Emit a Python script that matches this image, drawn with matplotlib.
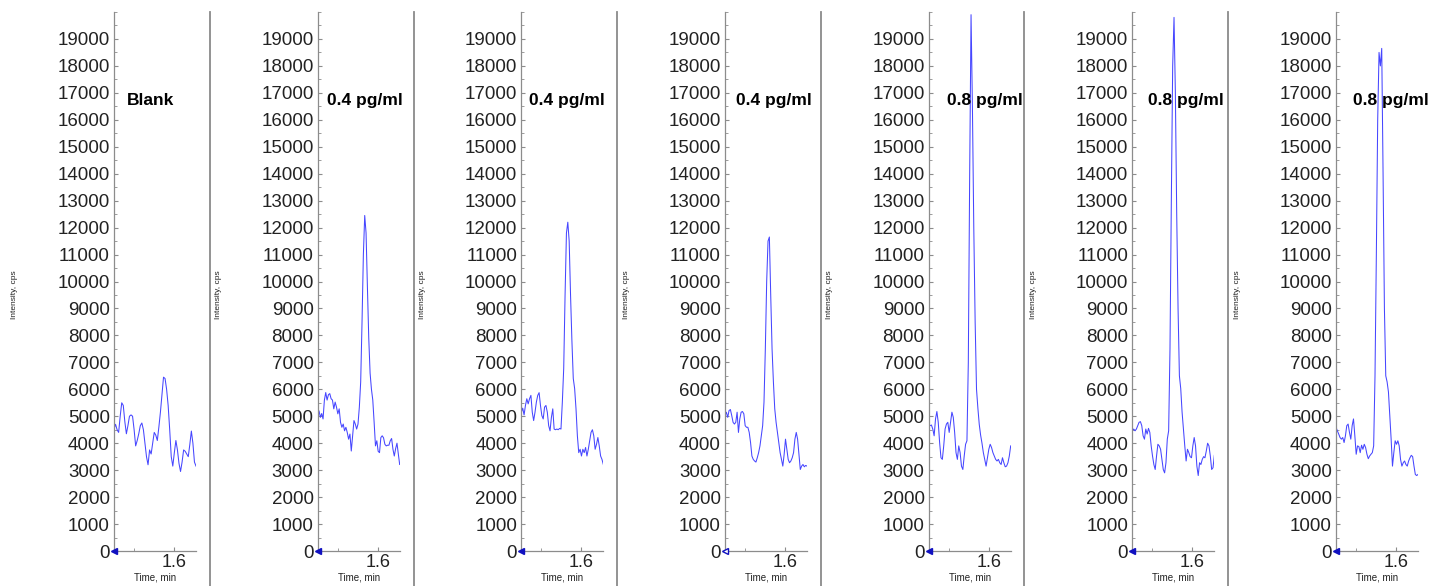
"""
plot.py

Seven MRM chromatograms side by side: a blank and six spiked samples.
"""

import numpy as np
import matplotlib
matplotlib.use("Agg")
import matplotlib.pyplot as plt
from matplotlib.ticker import MultipleLocator

# sample labels
LABELS = ["Blank", "0.4 pg/ml", "0.4 pg/ml", "0.4 pg/ml",
          "0.8 pg/ml", "0.8 pg/ml", "0.8 pg/ml"]

# time window shown on each x axis (min)
T_START = 1.45
T_END = 1.655

# intensity traces (cps), sampled evenly over the time window
BLANK = [4525, 4700, 4500, 4400, 5000, 5500, 5400, 4800, 4350, 4650, 5000,
         5050, 5000, 4500, 3900, 4100, 4350, 4650, 4750, 4500, 4000, 3500,
         3200, 3750, 3600, 4000, 4400, 4300, 4100, 4600, 5150, 5800, 6450,
         6400, 6000, 5400, 4500, 3500, 3150, 3650, 4100, 3750, 3250, 2950,
         3300, 3750, 3700, 3600, 3500, 3950, 4450, 4000, 3300, 3150]

SAMPLE_04_A = [5100, 5200, 4960, 5100, 4900, 5600, 5880, 5600, 5800, 5840,
               5650, 5600, 5275, 5525, 5340, 5090, 5275, 4775, 4590, 4710,
               4460, 4590, 4400, 4150, 4340, 3710, 4275, 4840, 4710, 4525,
               4710, 5340, 6275, 8500, 11000, 12450, 11800, 9800, 7900, 6600,
               6000, 5600, 4775, 3900, 4090, 3700, 3650, 4210, 4275, 4200,
               3960, 3900, 3925, 3925, 4090, 4175, 3775, 3525, 3800, 4000,
               3600, 3210]

SAMPLE_04_B = [5150, 5300, 5050, 5400, 5650, 5460, 5650, 5775, 5150, 4840,
               5150, 5525, 5775, 5875, 5400, 5025, 4900, 5340, 5400, 5150,
               4650, 4460, 4960, 5275, 4525, 4500, 4525, 4500, 4550, 4525,
               5525, 6775, 9500, 11800, 12200, 11500, 9500, 7800, 6400, 6025,
               5275, 4275, 3650, 3775, 3525, 3775, 3650, 3840, 3525, 3775,
               4090, 4400, 4500, 4275, 3775, 3960, 4210, 3900, 3525, 3400,
               3210]

SAMPLE_04_C = [5025, 5150, 4960, 5210, 5250, 5025, 4775, 4710, 4775, 5150,
               4400, 4900, 5150, 5175, 5090, 4650, 4590, 4590, 4400, 4025,
               3525, 3400, 3340, 3300, 3460, 3650, 3900, 4275, 4650, 5525,
               7500, 10000, 11500, 11650, 9500, 7500, 6275, 5275, 4775, 4400,
               4025, 3650, 3400, 3150, 3590, 4150, 3775, 3400, 3275, 3340,
               3460, 3650, 4150, 4400, 4150, 3590, 3025, 3150, 3210, 3125,
               3175, 3150]

SAMPLE_08_A = [4710, 4650, 4675, 4525, 4275, 4900, 5175, 4775, 4025, 3460,
               3400, 3900, 4525, 4710, 4775, 4400, 4775, 5150, 4960, 4400,
               3650, 3400, 3900, 3650, 3150, 3025, 3525, 3960, 4090, 7000,
               14000, 19900, 16500, 12000, 8500, 6000, 5300, 4700, 4300, 4000,
               3650, 3400, 3150, 3460, 3775, 3960, 3840, 3650, 3525, 3400,
               3340, 3400, 3275, 3210, 3460, 3275, 3125, 3150, 3275, 3525,
               3900]

SAMPLE_08_B = [4460, 4525, 4460, 4525, 4650, 4775, 4800, 4650, 4275, 4150,
               4525, 4340, 4550, 4400, 3900, 3525, 3210, 3025, 3525, 3960,
               3900, 3775, 3400, 3025, 2900, 3275, 4150, 4460, 7500, 13000,
               18000, 19800, 17000, 12500, 9000, 6500, 6025, 5150, 4525, 3900,
               3340, 3775, 3650, 3500, 3460, 3900, 4210, 3900, 3150, 2800,
               3275, 3210, 3400, 3500, 3460, 3710, 4000, 3900, 3525, 3025,
               3090, 3550]

SAMPLE_08_C = [4590, 4460, 4340, 4210, 4150, 4210, 4025, 4275, 4650, 4710,
               4400, 4150, 4650, 4900, 4275, 3590, 3900, 3875, 3650, 3925,
               3775, 3960, 3840, 3590, 3425, 3525, 3590, 3650, 3900, 6500,
               11000, 16000, 18500, 18000, 18650, 14000, 9000, 6500, 6275,
               5900, 5025, 4150, 3150, 3650, 4090, 3960, 4090, 3900, 3400,
               3150, 3275, 3340, 3210, 3150, 3340, 3460, 3550, 3500, 3150,
               2840, 2800, 2840]

TRACES = [BLANK, SAMPLE_04_A, SAMPLE_04_B, SAMPLE_04_C,
          SAMPLE_08_A, SAMPLE_08_B, SAMPLE_08_C]

# layout, in pixels of the 1437x586 canvas
W, H = 1437, 586
AX_LEFT0 = 114
AX_STEP = 203.67
AX_W = 82
AX_TOP = 12
AX_BOTTOM = 551
SEP_X0 = 210
SEP_STEP = 203.5
LABEL_DX = [13, 9, 8, 11, 18, 16, 17]  # label offset from spine, px

LINE_COLOR = "#4646ff"
SPINE_COLOR = "#8c8c8c"
TEXT_COLOR = "#222222"

plt.rcParams["font.family"] = ["Liberation Sans", "DejaVu Sans"]

fig = plt.figure(figsize=(W / 100, H / 100), dpi=100)

for i, (trace, label) in enumerate(zip(TRACES, LABELS)):
    left = AX_LEFT0 + i * AX_STEP
    ax = fig.add_axes([left / W, 1 - AX_BOTTOM / H,
                       AX_W / W, (AX_BOTTOM - AX_TOP) / H])
    times = np.linspace(T_START, T_END, len(trace))
    ax.plot(times, trace, color=LINE_COLOR, lw=0.75, zorder=2)
    ax.set_xlim(T_START, T_END)
    ax.set_ylim(0, 20000)

    ax.set_yticks(range(0, 20000, 1000))
    ax.yaxis.set_minor_locator(MultipleLocator(500))
    ax.xaxis.set_major_locator(MultipleLocator(0.2))
    ax.xaxis.set_minor_locator(MultipleLocator(0.1))
    ax.xaxis.set_major_formatter(plt.FormatStrFormatter("%.1f"))
    ax.tick_params(axis="both", which="major", direction="in", length=3,
                   width=0.8, color=SPINE_COLOR, labelsize=13.5,
                   labelcolor=TEXT_COLOR, pad=3)
    ax.tick_params(axis="both", which="minor", direction="in", length=2,
                   width=0.6, color=SPINE_COLOR)
    ax.tick_params(axis="x", which="major", labelsize=13, pad=2)

    for side in ("top", "right"):
        ax.spines[side].set_visible(False)
    for side in ("left", "bottom"):
        ax.spines[side].set_color(SPINE_COLOR)
        ax.spines[side].set_linewidth(0.9)

    # little origin marker used by the acquisition software
    face = "white" if i == 3 else "#1010c0"
    ax.plot([T_START], [0], marker="<", ms=4, color="#1010c0",
            mfc=face, clip_on=False, zorder=5)

    ax.text(LABEL_DX[i] / AX_W, 16700, label, transform=ax.get_yaxis_transform(),
            fontsize=12.5, fontweight="bold", color="black", va="center",
            ha="left", zorder=6)

    fig.text((left - 99) / W, 1 - 295 / H, "Intensity, cps", rotation=90,
             fontsize=6, color=TEXT_COLOR, ha="center", va="center")
    fig.text((left + AX_W / 2) / W, 1 - 578 / H, "Time, min",
             fontsize=7, color=TEXT_COLOR, ha="center", va="center")

# grey separators between the panels
for j in range(len(TRACES) - 1):
    x = (SEP_X0 + j * SEP_STEP) / W
    fig.add_artist(plt.Line2D([x, x], [0, 1 - AX_TOP / H],
                              color="#8a8a8a", lw=1.3))

fig.savefig("out.png", dpi=100)
